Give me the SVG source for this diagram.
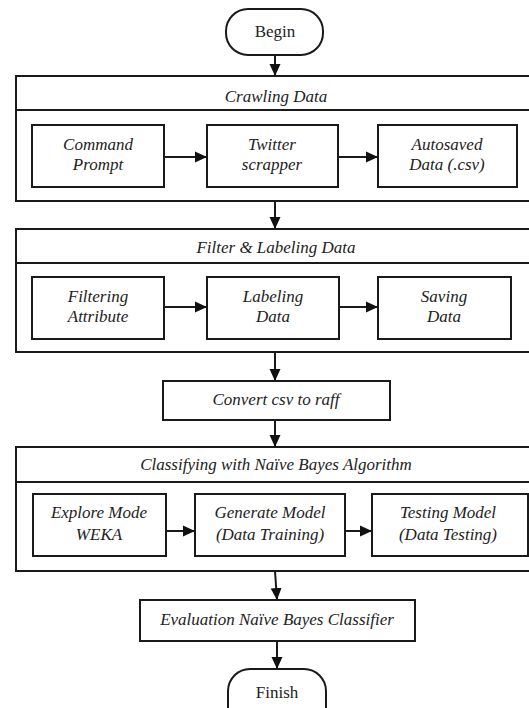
<svg xmlns="http://www.w3.org/2000/svg" width="529" height="708" viewBox="0 0 529 708">
<style>
.b{fill:#fff;stroke:#1a1a1a;stroke-width:2}
.l{fill:none;stroke:#1a1a1a;stroke-width:2}
.i{font-style:italic}
</style>
<defs>
<marker id="ah" markerUnits="userSpaceOnUse" markerWidth="12" markerHeight="12" viewBox="0 0 12 12" refX="12" refY="6" orient="auto">
<path d="M0,0.5 L12,6 L0,11.5 Z" fill="#111"/>
</marker>
</defs>
<rect width="529" height="708" fill="#fff"/>
<g font-family="Liberation Serif, DejaVu Serif, serif" font-size="17" fill="#222" text-anchor="middle">
<g id="begin"><rect class="b" x="226" y="9" width="97" height="46" rx="22" ry="22"/><text x="275" y="37">Begin</text></g>
<g id="crawling">
<rect class="b" x="16" y="76" width="524" height="125"/>
<line class="l" x1="16" y1="110" x2="540" y2="110"/>
<text class="i" x="276" y="102">Crawling Data</text>
</g>
<g id="cmd"><rect class="b" x="32" y="125" width="132" height="62"/><text class="i" x="98" y="150">Command</text><text class="i" x="98" y="170">Prompt</text></g>
<g id="twitter"><rect class="b" x="207" y="125" width="131" height="62"/><text class="i" x="272" y="150">Twitter</text><text class="i" x="272" y="170">scrapper</text></g>
<g id="autosaved"><rect class="b" x="378" y="125" width="139" height="62"/><text class="i" x="447" y="150">Autosaved</text><text class="i" x="447" y="170">Data (.csv)</text></g>
<g id="filter">
<rect class="b" x="16" y="229" width="524" height="123"/>
<line class="l" x1="16" y1="263" x2="540" y2="263"/>
<text class="i" x="276" y="253">Filter &amp; Labeling Data</text>
</g>
<g id="filtering"><rect class="b" x="32" y="277" width="132" height="62"/><text class="i" x="98" y="302">Filtering</text><text class="i" x="98" y="322">Attribute</text></g>
<g id="labeling"><rect class="b" x="207" y="277" width="132" height="62"/><text class="i" x="273" y="302">Labeling</text><text class="i" x="273" y="322">Data</text></g>
<g id="saving"><rect class="b" x="378" y="277" width="133" height="62"/><text class="i" x="444" y="302">Saving</text><text class="i" x="444" y="322">Data</text></g>
<g id="convert"><rect class="b" x="163" y="381" width="227" height="39"/><text class="i" x="276" y="405">Convert csv to raff</text></g>
<g id="classifying">
<rect class="b" x="16" y="447" width="524" height="124"/>
<line class="l" x1="16" y1="482" x2="540" y2="482"/>
<text class="i" x="276" y="470">Classifying with Naïve Bayes Algorithm</text>
</g>
<g id="explore"><rect class="b" x="33" y="494" width="133" height="62"/><text class="i" x="99" y="518">Explore Mode</text><text class="i" x="99" y="540">WEKA</text></g>
<g id="generate"><rect class="b" x="195" y="494" width="150" height="62"/><text class="i" x="270" y="518">Generate Model</text><text class="i" x="270" y="540">(Data Training)</text></g>
<g id="testing"><rect class="b" x="372" y="494" width="156" height="62"/><text class="i" x="448" y="518">Testing Model</text><text class="i" x="448" y="540">(Data Testing)</text></g>
<g id="evaluation"><rect class="b" x="140" y="600" width="275" height="41"/><text class="i" x="277" y="625">Evaluation Naïve Bayes Classifier</text></g>
<g id="finish"><rect class="b" x="228" y="669" width="98" height="60" rx="22" ry="22"/><text x="277" y="698">Finish</text></g>
</g>
<g id="connectors">
<line class="l" x1="275" y1="55" x2="275" y2="76" marker-end="url(#ah)"/>
<line class="l" x1="164" y1="157" x2="207" y2="157" marker-end="url(#ah)"/>
<line class="l" x1="338" y1="157" x2="378" y2="157" marker-end="url(#ah)"/>
<line class="l" x1="275" y1="201" x2="275" y2="229" marker-end="url(#ah)"/>
<line class="l" x1="164" y1="307" x2="207" y2="307" marker-end="url(#ah)"/>
<line class="l" x1="339" y1="307" x2="378" y2="307" marker-end="url(#ah)"/>
<line class="l" x1="275" y1="352" x2="275" y2="381" marker-end="url(#ah)"/>
<line class="l" x1="275" y1="420" x2="275" y2="447" marker-end="url(#ah)"/>
<line class="l" x1="166" y1="531" x2="195" y2="531" marker-end="url(#ah)"/>
<line class="l" x1="345" y1="531" x2="372" y2="531" marker-end="url(#ah)"/>
<line class="l" x1="275" y1="571" x2="277" y2="600" marker-end="url(#ah)"/>
<line class="l" x1="277" y1="641" x2="277" y2="669" marker-end="url(#ah)"/>
</g>
</svg>
